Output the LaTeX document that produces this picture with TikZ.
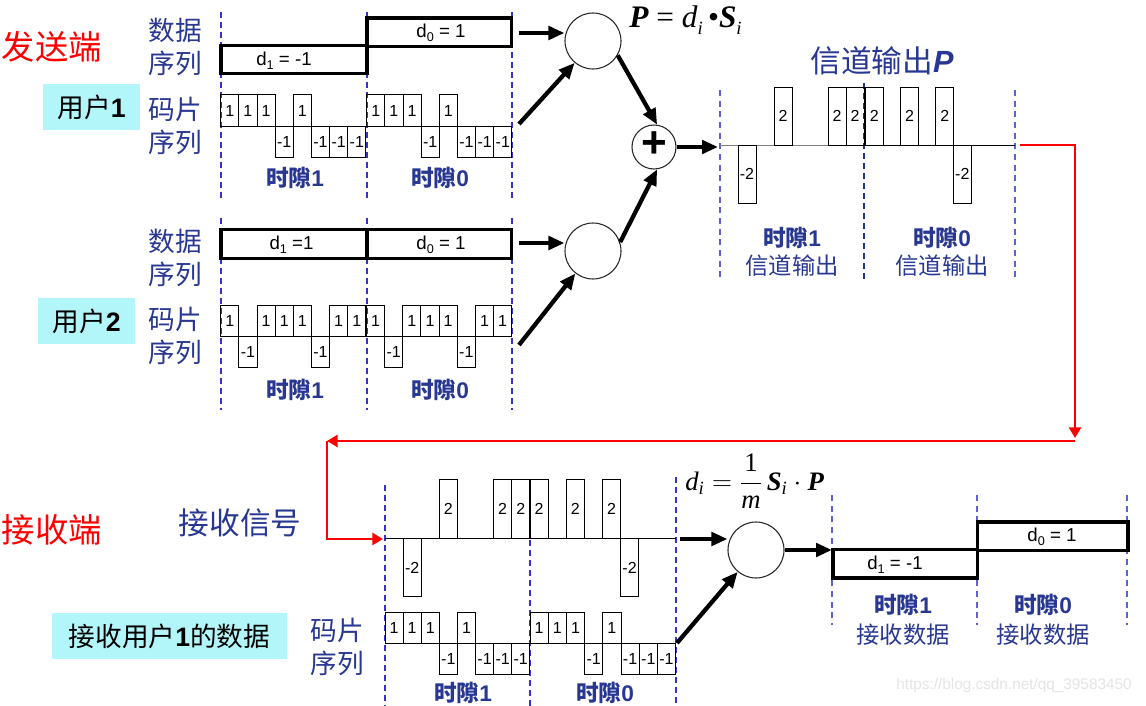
\documentclass[tikz,border=0pt]{standalone}
\usepackage{fontspec}
\usepackage{amsmath}
\setmainfont{Liberation Sans}
\newfontfamily\cjk{Noto Sans CJK SC}
\newfontfamily\tnr{Liberation Serif}
\usetikzlibrary{arrows.meta}
\definecolor{tblue}{RGB}{40,55,145}
\definecolor{dblue}{RGB}{51,51,204}
\definecolor{lblue}{RGB}{95,95,215}
\definecolor{navy}{RGB}{30,50,140}
\definecolor{cyanbg}{RGB}{178,246,250}
\definecolor{wm}{RGB}{228,228,228}
\newcommand\fs[2]{\fontsize{#1}{#2}\selectfont}
\newcommand\bnum[1]{{\rmfamily\bfseries #1}}
\newcommand\dsub[2]{d\raisebox{-0.4ex}{\fs{9.5}{10}#1}\ #2}
\tikzset{
  lbl/.style={inner sep=0pt, text=tblue, font=\cjk\fs{20}{24.75}, align=center},
  slot/.style={inner sep=0pt, text=tblue, font=\cjk\bfseries\fs{17}{21}, align=center},
  slotb/.style={inner sep=0pt, text=tblue, font=\cjk\fs{17.5}{21}, align=center},
  redlbl/.style={inner sep=0pt, text=red, font=\cjk\fs{25}{30}},
  blk/.style={inner sep=0pt, text=black, font=\cjk\fs{20}{24}},
  chip/.style={draw=black, line width=0.75pt},
  chiptxt/.style={inner sep=0pt, font=\fs{12}{12}},
  dtxt/.style={inner sep=0pt, font=\fs{14}{16}},
  dbox/.style={draw=black, line width=2.6pt},
  dashA/.style={draw=dblue, line width=1.5pt, dash pattern=on 4.5pt off 3pt},
  dashB/.style={draw=lblue, line width=1.1pt, dash pattern=on 4.5pt off 3.5pt},
  dashN/.style={draw=navy, line width=1.4pt, dash pattern=on 4.5pt off 3pt},
  arr/.style={draw=black, line width=3.2pt, -{Triangle[length=12pt,width=10pt]}},
  redarr/.style={draw=red, line width=2.2pt, -{Triangle[length=8pt,width=9pt]}},
  circ/.style={draw=black!85, line width=0.8pt, circle, inner sep=0pt},
}
\newcommand\chipseq[6]{%
  \foreach \v [count=\i from 0] in {#5}{%
    \ifnum\v=0\relax\else
      \draw[chip] ({#1+\i*#3},#2) rectangle ({#1+(\i+1)*#3},{#2-(\v)*#4});
      \node[chiptxt] (#6-\i) at ({#1+(\i+0.5)*#3},{#2-(\v)*#4/2}) {\v};
    \fi
  }%
}
\begin{document}
\begin{tikzpicture}[x=0.75pt,y=-0.75pt]
\useasboundingbox (0,0) rectangle (1146,706);

% ---------------- sender side ----------------
\node[redlbl] (send) at (52,47) {发送端};

% user 1
\node[lbl] (ds1) at (175,46.5) {数据\\序列};
\node[lbl] (cs1) at (175,125.5) {码片\\序列};
\fill[cyanbg] (43,84) rectangle (140,130);
\node[blk] (u1) at (91.5,107) {用户\bnum{1}};

\draw[dashA] (221,12) -- (221,200);
\draw[dashA] (367,12) -- (367,200);
\draw[dashA] (511.5,12) -- (511.5,200);

\draw[dbox] (221,45.5) rectangle (367,73.5);
\draw[dbox] (367,18) rectangle (511.5,46.5);
\node[dtxt] (u1d1) at (284,61) {\dsub{1}{= -1}};
\node[dtxt] (u1d0) at (441,33) {\dsub{0}{= 1}};

\chipseq{220.7}{126.5}{18.15}{31.5}{1,1,1,-1,1,-1,-1,-1}{ua}
\chipseq{366.7}{126.5}{18.15}{31.5}{1,1,1,-1,1,-1,-1,-1}{ub}
\node[slot] (t11) at (295,178) {时隙\bnum{1}};
\node[slot] (t10) at (440,178) {时隙\bnum{0}};

% user 2
\node[lbl] (ds2) at (175,258) {数据\\序列};
\node[lbl] (cs2) at (175,336) {码片\\序列};
\fill[cyanbg] (38,298) rectangle (135,344);
\node[blk] (u2) at (86.5,321) {用户\bnum{2}};

\draw[dashA] (221,218) -- (221,410);
\draw[dashA] (367,218) -- (367,410);
\draw[dashA] (511.5,218) -- (511.5,410);

\draw[dbox] (221,229.5) rectangle (367,258.5);
\draw[dbox] (367,229.5) rectangle (511.5,258.5);
\node[dtxt] (u2d1) at (291.5,245) {\dsub{1}{=1}};
\node[dtxt] (u2d0) at (441,245) {\dsub{0}{= 1}};

\chipseq{220.7}{336.7}{18.15}{31}{1,-1,1,1,1,-1,1,1}{va}
\chipseq{366.5}{336.7}{18.15}{31}{1,-1,1,1,1,-1,1,1}{vb}
\node[slot] (t21) at (295,390) {时隙\bnum{1}};
\node[slot] (t20) at (440,390) {时隙\bnum{0}};

% modulators and adder
\node[circ, minimum size=42pt] (m1) at (593,41) {};
\node[circ, minimum size=42pt] (m2) at (593,251) {};
\node[circ, minimum size=33pt] (plus) at (654,147) {};
\node[inner sep=0pt, font=\bfseries\fs{33}{33}] (plussym) at (654,145) {+};
\node[anchor=base west, inner sep=0pt, font=\tnr\fs{23.5}{26}] (f1) at (629,28)
  {\textbf{\textit{P}} = \textit{d}\raisebox{-0.45ex}{\fs{14}{15}\textit{i}}\,•\textbf{\textit{S}}\raisebox{-0.45ex}{\fs{14}{15}\textit{i}}};

\coordinate (a1) at (519,33);
\coordinate (a2) at (519,124);
\coordinate (a6) at (519,243);
\coordinate (a7) at (519,345);
\draw[arr] (a1) -- (a1 -| m1.west);
\draw[arr] (a2) -- (m1.230);
\draw[arr] (m1.-30) -- (plus.82);
\draw[arr] (a6) -- (a6 -| m2.west);
\draw[arr] (a7) -- (m2.232);
\draw[arr] (m2.18) -- (plus.-82);
\coordinate (chin) at (718,147);
\draw[arr] (plus.east) -- (chin);

% ---------------- channel output ----------------
\node[inner sep=0pt, text=tblue, font=\cjk\fs{23}{26}] (chtitle) at (882,61) {信道输出{\rmfamily\bfseries\itshape P}};
\draw[dashB] (720,90) -- (720,277);
\draw[dashN] (864.3,83) -- (864.3,280);
\draw[dashB] (1015,90) -- (1015,277);
\draw[black!50, line width=0.9pt] (720,145.3) -- (864,145.3);
\draw[black, line width=0.9pt] (864,145.3) -- (1015,145.3);
\chipseq{720}{145.3}{18}{29}{0,-2,0,2,0,0,2,2}{cha}
\chipseq{865.5}{145.3}{17.6}{29}{2,0,2,0,2,-2,0,0}{chb}
\node[slot] (ct1) at (792,238) {时隙\bnum{1}};
\node[slotb] (co1) at (792,266) {信道输出};
\node[slot] (ct0) at (942,238) {时隙\bnum{0}};
\node[slotb] (co0) at (942,266) {信道输出};

% red return path
\coordinate (r0) at (1020,145);
\coordinate (r1) at (1075,438);
\coordinate (r2) at (1075,441);
\coordinate (r3) at (327,441);
\coordinate (r4) at (383,539);
\draw[redarr] (r0) -| (r1);
\draw[redarr] (r2) -- (r3);
\draw[redarr] (r3) |- (r4);

% ---------------- receiver side ----------------
\node[redlbl] (recv) at (52,530) {接收端};
\node[inner sep=0pt, text=tblue, font=\cjk\fs{23}{26}] (rsig) at (240,523) {接收信号};
\fill[cyanbg] (52,613) rectangle (287,659);
\node[blk] (ru) at (169.5,636) {接收用户\bnum{1}的数据};
\node[lbl] (cs3) at (337,647) {码片\\序列};

\draw[dashA] (385,485) -- (385,706);
\draw[dashA] (530,540) -- (530,706);
\draw[dashA] (676,477) -- (676,706);
\draw[black, line width=0.9pt] (385,538.3) -- (676,538.3);
\chipseq{385}{538.3}{18.1}{29.3}{0,-2,0,2,0,0,2,2}{ra}
\chipseq{530}{538.3}{18.1}{29.3}{2,0,2,0,2,-2,0,0}{rb}
\chipseq{385}{643}{18.1}{31}{1,1,1,-1,1,-1,-1,-1}{ka}
\chipseq{530}{643}{18.2}{31}{1,1,1,-1,1,-1,-1,-1}{kb}
\node[slot] (rt1) at (463,693) {时隙\bnum{1}};
\node[slot] (rt0) at (605,693) {时隙\bnum{0}};

\node[circ, minimum size=42pt] (m3) at (756,550) {};
\node[anchor=base west, inner sep=0pt, font=\tnr\fs{20}{24}] (f2) at (685,490)
  {$\text{\textit{d}}_{\text{\textit{i}}} = \displaystyle\frac{\text{1}}{\text{\textit{m}}}\,\text{\textbf{\textit{S}}}_{\text{\textit{i}}}\cdot\text{\textbf{\textit{P}}}$};
\coordinate (b1) at (680,539);
\coordinate (b2) at (677,643);
\coordinate (b3) at (832,550);
\draw[arr] (b1) -- (b1 -| m3.west);
\draw[arr] (b2) -- (m3.230);
\draw[arr] (m3.east) -- (b3);

\draw[dashB] (832,495) -- (832,625);
\draw[dashB] (977,495) -- (977,625);
\draw[dashB] (1127,495) -- (1127,625);
\draw[dbox] (833,549.5) rectangle (977.5,578);
\draw[dbox] (977.5,522) rectangle (1128,550.5);
\node[dtxt] (rd1) at (895,565) {\dsub{1}{= -1}};
\node[dtxt] (rd0) at (1052,537) {\dsub{0}{= 1}};
\node[slot] (rdt1) at (903,605) {时隙\bnum{1}};
\node[slotb] (rdr1) at (903,635) {接收数据};
\node[slot] (rdt0) at (1043,605) {时隙\bnum{0}};
\node[slotb] (rdr0) at (1043,635) {接收数据};

\node[inner sep=0pt, text=wm, font=\fs{11.5}{12}] (wmark) at (1014,686) {https://blog.csdn.net/qq\_39583450};
\end{tikzpicture}
\end{document}
